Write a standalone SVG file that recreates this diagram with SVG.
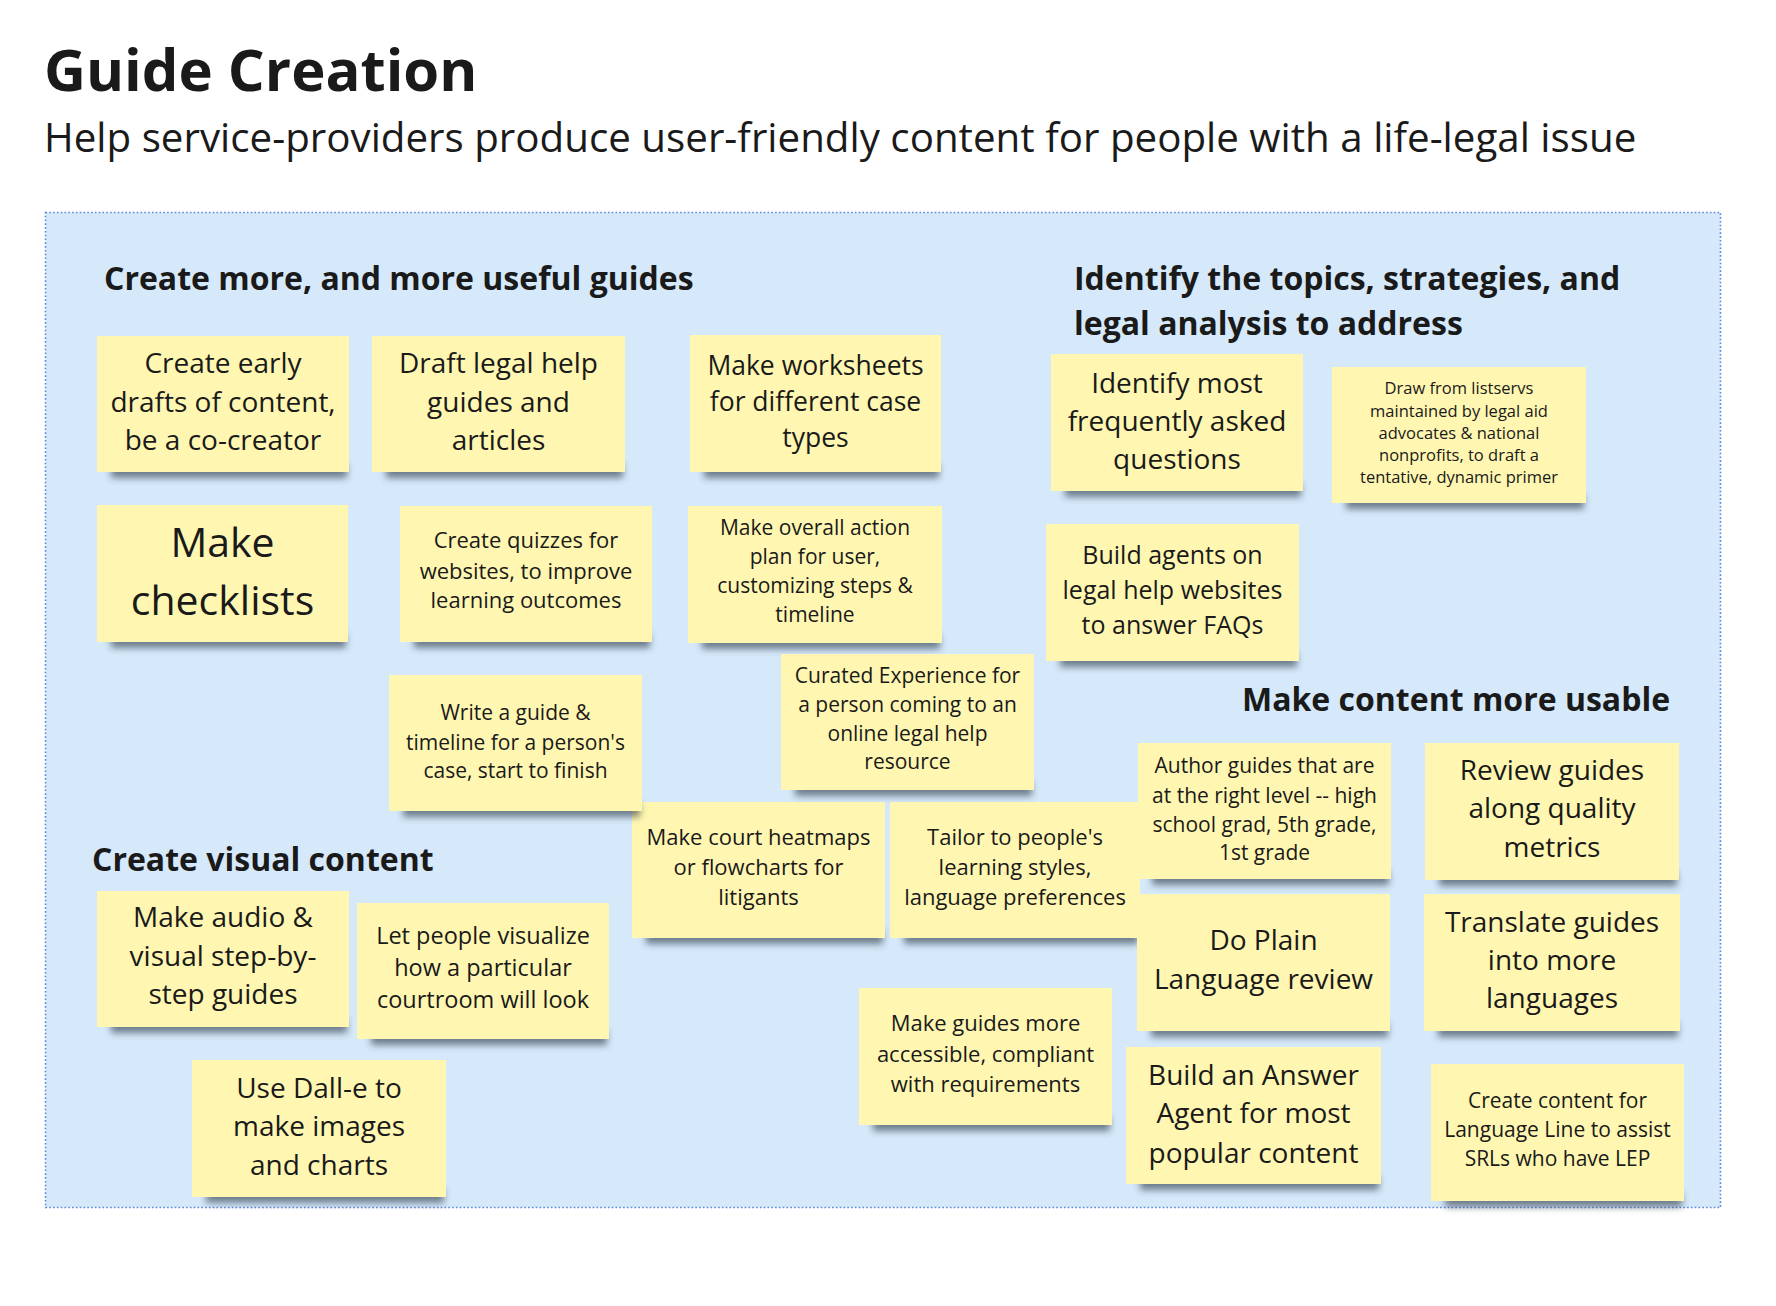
<svg xmlns="http://www.w3.org/2000/svg" width="1776" height="1306" viewBox="0 0 1776 1306">
<style>
.bg{fill:#ffffff}
.frame{fill:#d5e9fa;stroke:#5b86dc;stroke-width:1.6;stroke-dasharray:1.6 2.2}
.h{font-family:'Open Sans','Noto Sans',sans-serif;font-weight:700;fill:#1a1a1a}
.pad{fill:#fff7b1}
.shd{fill:#2a3444;opacity:.6;filter:url(#blur)}
.t{font-family:'Open Sans','Noto Sans',sans-serif;fill:#1a1a1a;text-anchor:middle}
</style>
<defs>
<filter id="blur" x="-10%" y="-200%" width="120%" height="500%"><feGaussianBlur stdDeviation="3.5"/></filter>
</defs>
<rect class="bg" x="0" y="0" width="1776" height="1306"/>
<g id="header">
<text class="h" x="44" y="91" font-size="58">Guide Creation</text>
<text x="44" y="152" font-size="40.3" font-family="'Open Sans','Noto Sans',sans-serif" fill="#1a1a1a">Help service-providers produce user-friendly content for people with a life-legal issue</text>
</g>
<g id="frame">
<rect class="frame" x="45.5" y="212.5" width="1675" height="995"/>
</g>
<g id="section-headers">
<text class="h" x="104" y="290" font-size="32">Create more, and more useful guides</text>
<text class="h" x="1074" y="290" font-size="32">Identify the topics, strategies, and</text>
<text class="h" x="1074" y="335" font-size="32">legal analysis to address</text>
<text class="h" x="1242" y="711" font-size="32">Make content more usable</text>
<text class="h" x="92" y="871" font-size="32">Create visual content</text>
</g>
<g id="connectors"></g>

<g id="s1"><rect class="shd" x="111" y="464" width="236" height="14"/><rect class="pad" x="97" y="336" width="252" height="136"/>
<text class="t" font-size="28"><tspan x="223" y="373">Create early</tspan><tspan x="223" y="412">drafts of content,</tspan><tspan x="223" y="450">be a co-creator</tspan></text></g>

<g id="s2"><rect class="shd" x="386" y="464" width="237" height="14"/><rect class="pad" x="372" y="336" width="253" height="136"/>
<text class="t" font-size="28"><tspan x="498.5" y="373">Draft legal help</tspan><tspan x="498.5" y="412">guides and</tspan><tspan x="498.5" y="450">articles</tspan></text></g>

<g id="s3"><rect class="shd" x="704" y="464" width="235" height="14"/><rect class="pad" x="690" y="335" width="251" height="137"/>
<text class="t" font-size="26.5"><tspan x="815.5" y="375">Make worksheets</tspan><tspan x="815.5" y="411">for different case</tspan><tspan x="815.5" y="447">types</tspan></text></g>

<g id="s4"><rect class="shd" x="111" y="634" width="235" height="14"/><rect class="pad" x="97" y="505" width="251" height="137"/>
<text class="t" font-size="41"><tspan x="222.5" y="557">Make</tspan><tspan x="222.5" y="615">checklists</tspan></text></g>

<g id="s5"><rect class="shd" x="414" y="634" width="236" height="14"/><rect class="pad" x="400" y="506" width="252" height="136"/>
<text class="t" font-size="22"><tspan x="526" y="548">Create quizzes for</tspan><tspan x="526" y="579">websites, to improve</tspan><tspan x="526" y="608">learning outcomes</tspan></text></g>

<g id="s6"><rect class="shd" x="702" y="635" width="238" height="14"/><rect class="pad" x="688" y="506" width="254" height="137"/>
<text class="t" font-size="21"><tspan x="815" y="535">Make overall action</tspan><tspan x="815" y="564">plan for user,</tspan><tspan x="815" y="593">customizing steps &amp;</tspan><tspan x="815" y="622">timeline</tspan></text></g>

<g id="s7"><rect class="shd" x="795" y="782" width="237" height="14"/><rect class="pad" x="781" y="654" width="253" height="136"/>
<text class="t" font-size="21"><tspan x="907.5" y="683">Curated Experience for</tspan><tspan x="907.5" y="712">a person coming to an</tspan><tspan x="907.5" y="741">online legal help</tspan><tspan x="907.5" y="769">resource</tspan></text></g>

<g id="s12"><rect class="shd" x="646" y="930" width="237" height="14"/><rect class="pad" x="632" y="802" width="253" height="136"/>
<text class="t" font-size="22"><tspan x="758.5" y="845">Make court heatmaps</tspan><tspan x="758.5" y="875">or flowcharts for</tspan><tspan x="758.5" y="905">litigants</tspan></text></g>

<g id="s8"><rect class="shd" x="403" y="803" width="237" height="14"/><rect class="pad" x="389" y="675" width="253" height="136"/>
<text class="t" font-size="21"><tspan x="515.5" y="720">Write a guide &amp;</tspan><tspan x="515.5" y="750">timeline for a person's</tspan><tspan x="515.5" y="778">case, start to finish</tspan></text></g>

<g id="s13"><rect class="shd" x="904" y="930" width="234" height="14"/><rect class="pad" x="890" y="802" width="250" height="136"/>
<text class="t" font-size="22"><tspan x="1015" y="845">Tailor to people's</tspan><tspan x="1015" y="875">learning styles,</tspan><tspan x="1015" y="905">language preferences</tspan></text></g>

<g id="s9"><rect class="shd" x="111" y="1019" width="236" height="14"/><rect class="pad" x="97" y="891" width="252" height="136"/>
<text class="t" font-size="28"><tspan x="223" y="927">Make audio &amp;</tspan><tspan x="223" y="966">visual step-by-</tspan><tspan x="223" y="1004">step guides</tspan></text></g>

<g id="s10"><rect class="shd" x="371" y="1031" width="236" height="14"/><rect class="pad" x="357" y="903" width="252" height="136"/>
<text class="t" font-size="23.5"><tspan x="483" y="944">Let people visualize</tspan><tspan x="483" y="976">how a particular</tspan><tspan x="483" y="1008">courtroom will look</tspan></text></g>

<g id="s11"><rect class="shd" x="206" y="1189" width="238" height="14"/><rect class="pad" x="192" y="1060" width="254" height="137"/>
<text class="t" font-size="28"><tspan x="319" y="1098">Use Dall-e to</tspan><tspan x="319" y="1136">make images</tspan><tspan x="319" y="1175">and charts</tspan></text></g>

<g id="s14"><rect class="shd" x="873" y="1117" width="237" height="14"/><rect class="pad" x="859" y="988" width="253" height="137"/>
<text class="t" font-size="22"><tspan x="985.5" y="1031">Make guides more</tspan><tspan x="985.5" y="1062">accessible, compliant</tspan><tspan x="985.5" y="1092">with requirements</tspan></text></g>

<g id="s15"><rect class="shd" x="1065" y="483" width="236" height="14"/><rect class="pad" x="1051" y="354" width="252" height="137"/>
<text class="t" font-size="28"><tspan x="1177" y="393">Identify most</tspan><tspan x="1177" y="431">frequently asked</tspan><tspan x="1177" y="469">questions</tspan></text></g>

<g id="s16"><rect class="shd" x="1346" y="495" width="238" height="14"/><rect class="pad" x="1332" y="367" width="254" height="136"/>
<text class="t" font-size="16.5"><tspan x="1459" y="394">Draw from listservs</tspan><tspan x="1459" y="417">maintained by legal aid</tspan><tspan x="1459" y="439">advocates &amp; national</tspan><tspan x="1459" y="461">nonprofits, to draft a</tspan><tspan x="1459" y="483">tentative, dynamic primer</tspan></text></g>

<g id="s17"><rect class="shd" x="1060" y="653" width="237" height="14"/><rect class="pad" x="1046" y="524" width="253" height="137"/>
<text class="t" font-size="25"><tspan x="1172.5" y="564">Build agents on</tspan><tspan x="1172.5" y="599">legal help websites</tspan><tspan x="1172.5" y="634">to answer FAQs</tspan></text></g>

<g id="s18"><rect class="shd" x="1152" y="871" width="237" height="14"/><rect class="pad" x="1138" y="743" width="253" height="136"/>
<text class="t" font-size="21"><tspan x="1264.5" y="773">Author guides that are</tspan><tspan x="1264.5" y="803">at the right level -- high</tspan><tspan x="1264.5" y="832">school grad, 5th grade,</tspan><tspan x="1264.5" y="860">1st grade</tspan></text></g>

<g id="s19"><rect class="shd" x="1439" y="872" width="238" height="14"/><rect class="pad" x="1425" y="743" width="254" height="137"/>
<text class="t" font-size="28"><tspan x="1552" y="780">Review guides</tspan><tspan x="1552" y="818">along quality</tspan><tspan x="1552" y="857">metrics</tspan></text></g>

<g id="s20"><rect class="shd" x="1151" y="1023" width="237" height="14"/><rect class="pad" x="1137" y="894" width="253" height="137"/>
<text class="t" font-size="28"><tspan x="1263.5" y="950">Do Plain</tspan><tspan x="1263.5" y="989">Language review</tspan></text></g>

<g id="s21"><rect class="shd" x="1438" y="1023" width="240" height="14"/><rect class="pad" x="1424" y="894" width="256" height="137"/>
<text class="t" font-size="28"><tspan x="1552" y="932">Translate guides</tspan><tspan x="1552" y="970">into more</tspan><tspan x="1552" y="1008">languages</tspan></text></g>

<g id="s22"><rect class="shd" x="1140" y="1176" width="239" height="14"/><rect class="pad" x="1126" y="1047" width="255" height="137"/>
<text class="t" font-size="28"><tspan x="1253.5" y="1085">Build an Answer</tspan><tspan x="1253.5" y="1123">Agent for most</tspan><tspan x="1253.5" y="1163">popular content</tspan></text></g>

<g id="s23"><rect class="shd" x="1445" y="1193" width="237" height="14"/><rect class="pad" x="1431" y="1064" width="253" height="137"/>
<text class="t" font-size="21"><tspan x="1557.5" y="1108">Create content for</tspan><tspan x="1557.5" y="1137">Language Line to assist</tspan><tspan x="1557.5" y="1166">SRLs who have LEP</tspan></text></g>
</svg>
